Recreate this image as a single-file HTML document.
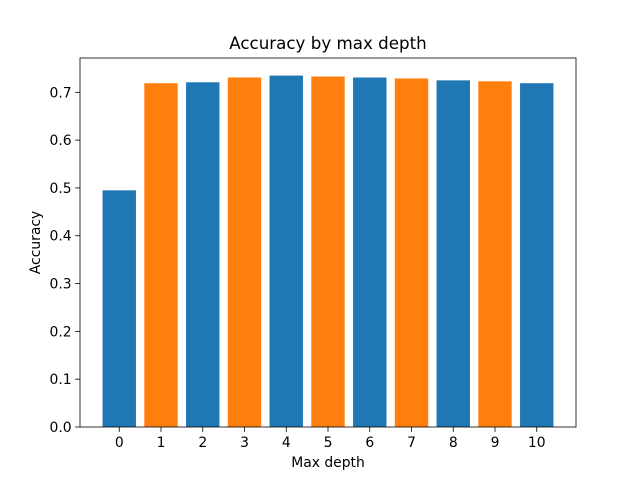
<!DOCTYPE html>
<html><head><meta charset="utf-8"><style>
body{margin:0;background:#fff;}
svg{display:block;font-family:"DejaVu Sans","Liberation Sans",sans-serif;}
</style></head><body>
<svg id="chart" width="640" height="480">
<rect width="640" height="480" fill="#fff"/>
<text x="328" y="49" font-size="16.7" text-anchor="middle" fill="#000">Accuracy by max depth</text>
<g id="bars"></g>
<g id="axes"></g>
<text x="328" y="467" font-size="13.9" text-anchor="middle">Max depth</text>
<text transform="translate(40,242.5) rotate(-90)" font-size="13.9" text-anchor="middle">Accuracy</text>
</svg>
<script>
const categories=["0","1","2","3","4","5","6","7","8","9","10"];
const values=[0.495,0.719,0.721,0.731,0.735,0.733,0.731,0.729,0.725,0.723,0.719];
const yTicks=[0.0,0.1,0.2,0.3,0.4,0.5,0.6,0.7];
const colors=["#1f77b4","#ff7f0e"];
const L=80,R=576,T=58,B=427;
const n=categories.length;
const xmin=-0.4-0.05*(n-1+0.8),xmax=n-1+0.4+0.05*(n-1+0.8);
const ymax=Math.max(...values)*1.05;
const xs=v=>L+(v-xmin)/(xmax-xmin)*(R-L);
const ys=v=>B-v/ymax*(B-T);
const NS="http://www.w3.org/2000/svg";
const bars=document.getElementById('bars'),axes=document.getElementById('axes');
function mk(tag,attrs,parent){const e=document.createElementNS(NS,tag);for(const k in attrs)e.setAttribute(k,attrs[k]);parent.appendChild(e);return e;}
values.forEach((v,i)=>{
 const r=mk('rect',{x:xs(i-0.4),y:ys(v),width:xs(i+0.4)-xs(i-0.4),height:B-ys(v),fill:colors[i%2]},bars);
 
 
});
const frame=mk('rect',{x:L,y:T,width:R-L,height:B-T,fill:'none',stroke:'#000','stroke-width':0.8},axes);


categories.forEach((c,i)=>{
 const x=xs(i);
 mk('line',{x1:x,x2:x,y1:B,y2:B+4.9,stroke:'#000','stroke-width':0.8},axes);
 const t=mk('text',{x:x,y:B+20,'font-size':13.9,'text-anchor':'middle'},axes);
 t.textContent=c;
 
 
});
yTicks.forEach(v=>{
 const y=ys(v);
 mk('line',{x1:L-4.9,x2:L,y1:y,y2:y,stroke:'#000','stroke-width':0.8},axes);
 const t=mk('text',{x:L-8.4,y:y+5,'font-size':13.9,'text-anchor':'end'},axes);
 t.textContent=v.toFixed(1);
 
 
});
</script>
</body></html>
